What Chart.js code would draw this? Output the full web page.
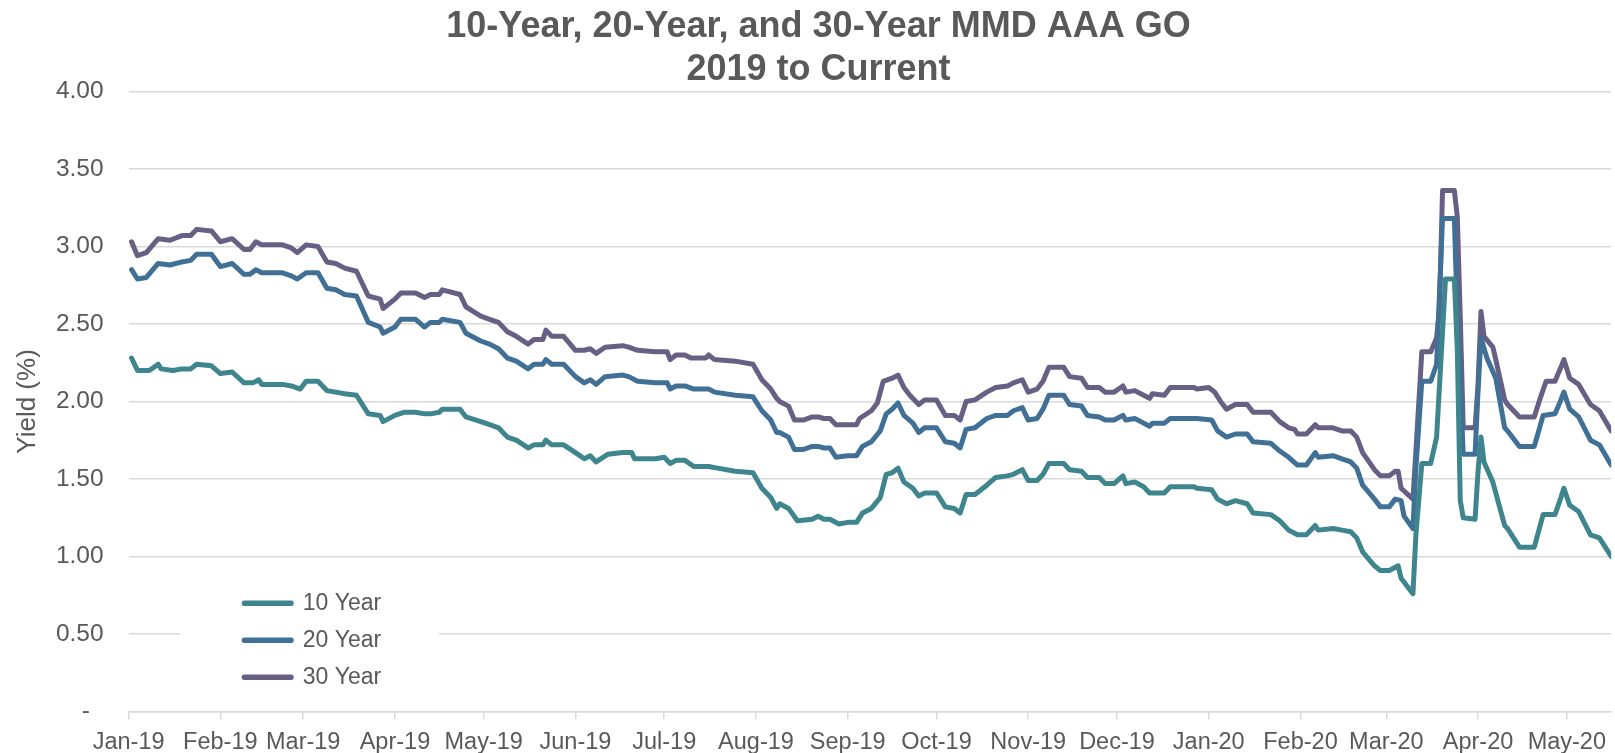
<!DOCTYPE html>
<html>
<head>
<meta charset="utf-8">
<script src="https://cdn.jsdelivr.net/npm/chart.js@4.4.1/dist/chart.umd.min.js"></script>
<style>
html,body{margin:0;padding:0;background:#fff;}
canvas{display:block;}
</style>
</head>
<body>
<canvas id="c" width="1615" height="753"></canvas>
<script>
// ---------- DATA ----------
const titleLines = ['10-Year, 20-Year, and 30-Year MMD AAA GO', '2019 to Current'];
const seriesNames = ['10 Year', '20 Year', '30 Year'];
const yAxisLabel = 'Yield (%)';

// x-axis tick labels (month starts) and their day offsets from 1 Jan 2019
const monthLabels = ['Jan-19','Feb-19','Mar-19','Apr-19','May-19','Jun-19','Jul-19','Aug-19','Sep-19','Oct-19','Nov-19','Dec-19','Jan-20','Feb-20','Mar-20','Apr-20','May-20'];
const monthDays = [0,31,59,90,120,151,181,212,243,273,304,334,365,396,425,456,486];

// 10 Year
const days10 = [1,3,7,10,11,15,18,21,23,28,31,35,39,42,44,45,52,55,58,60,64,67,70,73,77,81,85,86,90,93,97,100,102,105,106,112,114,119,122,
  125,128,131,135,137,140,141,143,147,151,154,156,158,162,167,170,171,178,181,183,185,188,191,196,199,205,211,214,217,219,220,223,226,231,233,235,237,240,243,246,248,
  251,254,256,258,260,262,265,267,269,273,276,279,281,283,286,290,293,297,299,302,304,307,309,311,316,318,322,324,328,330,333,336,337,340,343,345,350,352,360,361,366,368,371,374,
  378,380,386,389,392,395,398,401,402,407,410,413,415,417,421,423,426,429,430,434,435,437,440,442,443,445,448,449,450,451,455,456,457,458,461,465,466,470,475,478,482,484,485,487,490,494,497,501];
const yield10 = [2.28,2.20,2.20,2.24,2.21,2.20,2.21,2.21,2.24,2.23,2.18,2.19,2.12,2.12,2.14,2.11,2.11,2.10,2.08,2.13,2.13,2.07,2.06,2.05,2.04,1.92,1.91,1.87,1.91,1.93,1.93,1.92,1.92,1.93,1.95,1.95,1.90,1.87,1.85,
  1.83,1.77,1.75,1.70,1.72,1.72,1.75,1.72,1.72,1.67,1.63,1.65,1.61,1.66,1.67,1.67,1.63,1.63,1.64,1.60,1.62,1.62,1.58,1.58,1.57,1.55,1.54,1.44,1.38,1.31,1.34,1.31,1.23,1.24,1.26,1.24,1.24,1.21,1.22,1.22,1.28,
  1.31,1.38,1.53,1.54,1.57,1.48,1.44,1.39,1.41,1.41,1.32,1.31,1.28,1.40,1.40,1.46,1.51,1.52,1.53,1.56,1.49,1.49,1.53,1.60,1.60,1.56,1.55,1.51,1.51,1.47,1.47,1.52,1.47,1.48,1.45,1.41,1.41,1.45,1.45,1.44,1.43,1.37,1.34,1.36,
  1.34,1.28,1.27,1.23,1.17,1.14,1.14,1.20,1.17,1.18,1.17,1.16,1.12,1.03,0.94,0.91,0.91,0.94,0.86,0.76,1.14,1.60,1.60,1.77,2.11,2.79,2.79,2.33,1.36,1.25,1.24,1.55,1.77,1.61,1.48,1.20,1.18,1.06,1.06,1.27,1.27,1.38,1.44,1.33,1.29,1.14,1.12,1.00];

// 20 Year
const days20 = [1,3,6,10,14,18,21,23,28,31,35,39,41,43,45,52,55,57,60,64,67,70,73,77,81,85,86,90,92,97,100,102,105,106,112,114,119,122,
  125,128,131,135,137,140,141,143,147,151,154,156,158,161,167,169,172,178,182,183,185,188,191,196,198,205,211,214,217,219,220,223,225,228,231,233,235,237,239,243,246,248,
  251,254,256,258,260,262,265,267,269,273,276,279,281,283,286,290,293,297,299,302,304,307,309,311,316,318,322,324,328,330,333,336,337,340,343,345,346,350,352,360,361,366,368,371,374,
  378,380,386,389,392,395,398,401,402,407,410,413,415,417,421,423,426,428,430,431,434,435,437,440,442,444,448,449,451,455,456,457,459,462,465,466,470,475,478,482,484,485,487,490,494,497,501];
const yield20 = [2.85,2.79,2.80,2.89,2.88,2.90,2.91,2.95,2.95,2.87,2.89,2.82,2.82,2.85,2.83,2.83,2.81,2.79,2.83,2.83,2.73,2.72,2.69,2.68,2.51,2.48,2.44,2.48,2.53,2.53,2.48,2.51,2.51,2.53,2.51,2.44,2.39,2.37,
  2.34,2.28,2.26,2.21,2.24,2.24,2.27,2.24,2.24,2.16,2.12,2.14,2.11,2.16,2.17,2.16,2.13,2.12,2.12,2.08,2.10,2.10,2.08,2.08,2.06,2.04,2.03,1.94,1.88,1.80,1.80,1.77,1.69,1.69,1.71,1.71,1.70,1.70,1.64,1.65,1.65,1.71,
  1.74,1.81,1.92,1.95,1.99,1.91,1.86,1.80,1.83,1.83,1.74,1.73,1.70,1.82,1.83,1.89,1.91,1.91,1.94,1.96,1.88,1.89,1.95,2.04,2.04,1.98,1.97,1.91,1.90,1.88,1.88,1.91,1.88,1.89,1.86,1.84,1.86,1.86,1.89,1.89,1.89,1.88,1.81,1.77,1.79,
  1.79,1.74,1.73,1.68,1.64,1.59,1.59,1.67,1.64,1.65,1.63,1.61,1.57,1.46,1.37,1.32,1.32,1.37,1.36,1.26,1.18,1.57,2.13,2.13,2.24,3.18,3.18,2.54,1.66,1.66,2.07,2.41,2.28,2.15,1.83,1.81,1.71,1.71,1.91,1.92,2.01,2.06,1.95,1.90,1.75,1.72,1.59];

// 30 Year
const days30 = [1,3,6,10,14,18,21,23,28,31,35,39,41,43,45,52,55,57,60,64,67,70,73,77,81,85,86,90,92,97,100,102,105,106,112,114,119,122,
  125,128,131,135,137,140,141,143,147,151,154,156,158,161,167,169,172,178,182,183,185,188,190,195,196,198,205,211,214,217,219,220,223,225,228,231,233,235,237,239,243,246,247,
  251,253,255,258,260,262,264,267,269,273,276,279,281,283,286,290,293,297,299,302,304,307,309,311,316,318,322,324,328,330,333,336,337,340,343,345,346,350,352,360,361,365,367,369,371,374,
  378,380,386,389,392,394,395,398,401,402,407,410,413,415,417,421,423,426,428,429,430,434,435,437,440,442,443,444,448,449,450,451,455,456,457,458,461,462,465,466,470,475,477,479,482,484,485,487,490,494,497,501];
const yield30 = [3.03,2.94,2.96,3.05,3.04,3.07,3.07,3.11,3.10,3.03,3.05,2.98,2.98,3.03,3.01,3.01,2.99,2.96,3.01,3.00,2.90,2.89,2.86,2.84,2.68,2.66,2.60,2.66,2.70,2.70,2.67,2.69,2.69,2.72,2.69,2.61,2.55,2.53,
  2.51,2.45,2.42,2.37,2.40,2.40,2.46,2.42,2.42,2.33,2.33,2.34,2.31,2.35,2.36,2.35,2.33,2.32,2.32,2.27,2.30,2.30,2.28,2.28,2.30,2.27,2.26,2.24,2.14,2.08,2.02,2.00,1.97,1.88,1.88,1.90,1.90,1.89,1.89,1.85,1.85,1.85,1.89,
  1.94,1.99,2.13,2.15,2.17,2.09,2.04,1.98,2.01,2.01,1.91,1.91,1.88,2.00,2.01,2.06,2.09,2.10,2.12,2.14,2.06,2.08,2.13,2.22,2.22,2.16,2.15,2.09,2.09,2.06,2.06,2.10,2.06,2.07,2.04,2.02,2.05,2.04,2.09,2.09,2.08,2.09,2.06,2.00,1.95,1.98,
  1.98,1.93,1.93,1.87,1.83,1.82,1.79,1.79,1.85,1.83,1.83,1.81,1.81,1.77,1.67,1.56,1.52,1.52,1.55,1.55,1.44,1.37,1.68,2.32,2.32,2.41,2.61,3.36,3.36,3.19,2.54,1.83,1.83,2.11,2.58,2.42,2.35,2.27,2.01,1.98,1.90,1.90,2.02,2.13,2.13,2.22,2.27,2.15,2.11,1.98,1.94,1.81];

// ---------- STYLE ----------
const FONT = "'Liberation Sans', Arial, Helvetica, sans-serif";
const GREY = '#595959';
const GRID = '#d9d9d9';
const colors = ['#3e858e', '#417097', '#686084'];

Chart.defaults.font.family = FONT;
Chart.defaults.color = GREY;

function toPoints(days, vals) { return days.map((d, i) => ({ x: d, y: vals[i] })); }

const mkSet = (label, days, vals, color) => ({
  label, data: toPoints(days, vals),
  borderColor: color, backgroundColor: color,
  borderWidth: 5, pointRadius: 0, tension: 0,
  borderJoinStyle: 'round', borderCapStyle: 'round', fill: false
});

const layoutTweaks = {
  id: 'layoutTweaks',
  beforeDraw(chart) {
    const ctx = chart.ctx;
    ctx.save(); ctx.fillStyle = '#fff'; ctx.fillRect(0, 0, chart.width, chart.height); ctx.restore();
  },
  afterLayout(chart) {
    const L = chart.legend;
    if (L) {
      L.left = 230.2; L.top = 577.8; L.right = 470; L.bottom = 712;
      L.width = L.right - L.left; L.height = L.bottom - L.top;
    }
    const T = chart.titleBlock;
    if (T) { T.left += 11; T.right += 11; }
  },
  beforeDatasetsDraw(chart) {
    const ctx = chart.ctx;
    ctx.save(); ctx.fillStyle = '#fff'; ctx.fillRect(180, 572, 259, 130); ctx.restore();
    if (chart.legend) chart.legend.draw();
  }
};

new Chart(document.getElementById('c'), {
  type: 'line',
  data: {
    datasets: [
      mkSet(seriesNames[0], days10, yield10, colors[0]),
      mkSet(seriesNames[1], days20, yield20, colors[1]),
      mkSet(seriesNames[2], days30, yield30, colors[2])
    ]
  },
  options: {
    responsive: false,
    devicePixelRatio: 1,
    animation: false,
    events: [],
    layout: { padding: 0 },
    plugins: {
      title: {
        display: true, text: titleLines, color: GREY,
        font: { family: FONT, size: 36, weight: 'bold', lineHeight: 1.2 },
        padding: { top: 5, bottom: 0 }
      },
      legend: {
        position: 'chartArea', align: 'start',
        labels: { boxWidth: 47, boxHeight: 0.5, padding: 14, color: GREY, font: { family: FONT, size: 23 } }
      },
      tooltip: { enabled: false }
    },
    scales: {
      x: {
        type: 'linear', min: 0, max: 501,
        afterBuildTicks: (s) => { s.ticks = monthDays.map(v => ({ value: v })); },
        afterFit: (s) => { s.height = 41.5; },
        ticks: {
          autoSkip: false, maxRotation: 0, minRotation: 0, padding: 9, color: GREY,
          font: { family: FONT, size: 23.5 },
          callback: (v) => monthLabels[monthDays.indexOf(v)]
        },
        grid: { drawOnChartArea: false, drawTicks: true, tickLength: 8, color: GRID, lineWidth: 1.5 },
        border: { display: true, color: GRID, width: 1.5 }
      },
      y: {
        type: 'linear', min: 0, max: 4,
        afterFit: (s) => { s.width = 128.6; },
        ticks: {
          stepSize: 0.5, padding: 25, color: GREY,
          font: { family: FONT, size: 24.5 },
          callback: (v) => v === 0 ? '-  ' : Number(v).toFixed(2)
        },
        grid: { drawTicks: false, color: GRID, lineWidth: 1.5 },
        border: { display: false },
        title: {
          display: true, text: yAxisLabel, color: GREY,
          font: { family: FONT, size: 26 },
          padding: { top: 12, bottom: 0 }
        }
      }
    }
  },
  plugins: [layoutTweaks]
});
</script>
</body>
</html>
